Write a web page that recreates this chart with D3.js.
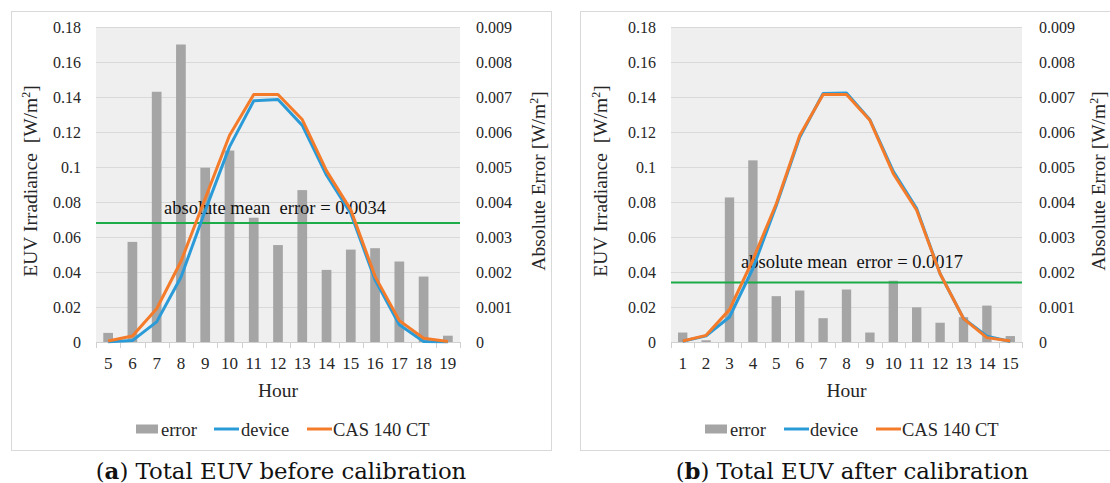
<!DOCTYPE html>
<html>
<head>
<meta charset="utf-8">
<script src="https://cdn.jsdelivr.net/npm/d3@7"></script>
<style>
  html, body { margin: 0; padding: 0; background: #ffffff; }
  svg { display: block; }
</style>
</head>
<body>
<svg id="chart" width="1110" height="483"></svg>
<script>
// ---------- DATA ----------
const hoursA  = [5, 6, 7, 8, 9, 10, 11, 12, 13, 14, 15, 16, 17, 18, 19];
const errorA  = [0.00026, 0.00286, 0.00715, 0.0085, 0.00498, 0.00547, 0.00355, 0.00277, 0.00434, 0.00206, 0.00264, 0.00268, 0.0023, 0.00187, 0.00018];
const deviceA = [0.0002, 0.0008, 0.0115, 0.037, 0.075, 0.1115, 0.1378, 0.1386, 0.1238, 0.0953, 0.0735, 0.0355, 0.0098, 0.0003, 0.0001];
const casA    = [0.0006, 0.0034, 0.019, 0.046, 0.082, 0.118, 0.1414, 0.1414, 0.1271, 0.0978, 0.0755, 0.0375, 0.0122, 0.0021, 0.0003];
const meanErrA = 0.0034;

const hoursB  = [1, 2, 3, 4, 5, 6, 7, 8, 9, 10, 11, 12, 13, 14, 15];
const errorB  = [0.00027, 0.00005, 0.00413, 0.00519, 0.00131, 0.00147, 0.00068, 0.0015, 0.00027, 0.00175, 0.00099, 0.00055, 0.00071, 0.00104, 0.00017];
const deviceB = [0.0004, 0.0035, 0.0143, 0.042, 0.078, 0.117, 0.142, 0.1423, 0.127, 0.0975, 0.0762, 0.039, 0.0134, 0.0033, 0.0003];
const casB    = [0.0006, 0.0038, 0.0185, 0.047, 0.079, 0.118, 0.1414, 0.1414, 0.1267, 0.0962, 0.0753, 0.039, 0.0134, 0.0025, 0.0006];
const meanErrB = 0.0017;

const leftTicks  = [0, 0.02, 0.04, 0.06, 0.08, 0.1, 0.12, 0.14, 0.16, 0.18];
const rightTicks = [0, 0.001, 0.002, 0.003, 0.004, 0.005, 0.006, 0.007, 0.008, 0.009];
const seriesNames = ["error", "device", "CAS 140 CT"];
const captionA = ["a", ") Total EUV before calibration"];
const captionB = ["b", ") Total EUV after calibration"];
const annotA = "absolute mean\u00A0 error = 0.0034";
const annotB = "absolute mean\u00A0 error = 0.0017";

// ---------- STYLE ----------
const FONT = "'Liberation Serif', 'Times New Roman', serif";
const TEXT = "#262626";
const C_BAR = "#a5a5a5", C_DEV = "#2b9bd8", C_CAS = "#f47b2a", C_GREEN = "#1bab47";

const svg = d3.select("#chart");

function drawPanel(o) {
  const g = svg.append("g");
  // panel border
  g.append("rect").attr("x", o.box[0] + 0.5).attr("y", o.box[1] + 0.5)
    .attr("width", o.box[2] - o.box[0]).attr("height", o.box[3] - o.box[1])
    .attr("fill", "#fff").attr("stroke", "#d9d9d9").attr("stroke-width", 1);

  const x = d3.scaleBand().domain(o.hours).range([o.left, o.right]).padding(0);
  const yL = d3.scaleLinear().domain([0, 0.18]).range([o.bottom, o.top]);
  const yR = d3.scaleLinear().domain([0, 0.009]).range([o.bottom, o.top]);

  // plot background
  g.append("rect").attr("x", o.left).attr("y", o.top)
    .attr("width", o.right - o.left).attr("height", o.bottom - o.top).attr("fill", "#efefef");

  // gridlines
  g.append("g").selectAll("line").data(leftTicks.slice(1)).join("line")
    .attr("x1", o.left).attr("x2", o.right)
    .attr("y1", d => Math.round(yL(d)) + 0.5).attr("y2", d => Math.round(yL(d)) + 0.5)
    .attr("stroke", "#d9d9d9").attr("stroke-width", 1);

  // bars (right axis)
  const bw = x.bandwidth() / 2.5;
  g.append("g").selectAll("rect").data(o.error).join("rect")
    .attr("x", (d, i) => x(o.hours[i]) + (x.bandwidth() - bw) / 2)
    .attr("y", d => yR(d)).attr("width", bw).attr("height", d => o.bottom - yR(d))
    .attr("fill", C_BAR);

  // x axis
  const xAxis = d3.axisBottom(x).tickSize(0).tickPadding(0);
  const xa = g.append("g").attr("transform", `translate(0,${o.bottom})`).call(xAxis);
  xa.attr("font-family", FONT);
  xa.select(".domain").attr("stroke", "#d0d0d0").attr("stroke-width", 1.2);
  xa.selectAll(".tick text").attr("font-family", FONT).attr("font-size", 17)
    .attr("fill", TEXT).attr("y", 27).attr("dy", 0);
  // category boundary ticks
  const bounds = o.hours.map(h => x(h)).concat([o.right]);
  g.append("g").selectAll("line").data(bounds).join("line")
    .attr("x1", d => Math.round(d) + 0.5).attr("x2", d => Math.round(d) + 0.5)
    .attr("y1", o.bottom).attr("y2", o.bottom + 6)
    .attr("stroke", "#d0d0d0").attr("stroke-width", 1);

  // left axis labels
  const la = g.append("g").attr("transform", `translate(${o.left},0)`)
    .call(d3.axisLeft(yL).tickValues(leftTicks).tickSize(0).tickPadding(15)
      .tickFormat(d => d === 0 ? "0" : String(+d.toFixed(2))));
  la.attr("font-family", FONT);
  la.select(".domain").remove();
  la.selectAll(".tick text").attr("font-family", FONT).attr("font-size", 16).attr("fill", TEXT);

  // right axis labels
  const ra = g.append("g").attr("transform", `translate(${o.right},0)`)
    .call(d3.axisRight(yR).tickValues(rightTicks).tickSize(0).tickPadding(o.rpad)
      .tickFormat(d => d === 0 ? "0" : String(+d.toFixed(3))));
  ra.attr("font-family", FONT);
  ra.select(".domain").remove();
  ra.selectAll(".tick text").attr("font-family", FONT).attr("font-size", 16).attr("fill", TEXT);

  // mean error line
  g.append("line").attr("x1", o.left).attr("x2", o.right)
    .attr("y1", yR(o.mean)).attr("y2", yR(o.mean))
    .attr("stroke", C_GREEN).attr("stroke-width", 2);
  g.append("text").attr("x", o.annot[0]).attr("y", o.annot[1])
    .attr("font-family", FONT).attr("font-size", 18.5).attr("fill", "#111")
    .text(o.annotText);

  // lines
  const line = d3.line().x((d, i) => x(o.hours[i]) + x.bandwidth() / 2).y(d => yL(d));
  g.append("path").datum(o.device).attr("d", line).attr("fill", "none")
    .attr("stroke", C_DEV).attr("stroke-width", 3).attr("stroke-linejoin", "round");
  g.append("path").datum(o.cas).attr("d", line).attr("fill", "none")
    .attr("stroke", C_CAS).attr("stroke-width", 3).attr("stroke-linejoin", "round");

  // axis titles
  const cy = 181;
  const lt = g.append("text").attr("transform", `translate(${o.ltx},${cy}) rotate(-90)`)
    .attr("text-anchor", "middle").attr("font-family", FONT).attr("font-size", 19.5).attr("fill", TEXT)
    .attr("dy", "0.35em");
  lt.append("tspan").text("EUV Irradiance\u00A0 [W/m");
  lt.append("tspan").attr("baseline-shift", "super").attr("font-size", 12).text("2");
  lt.append("tspan").text("]");
  const rt = g.append("text").attr("transform", `translate(${o.rtx},${cy}) rotate(-90)`)
    .attr("text-anchor", "middle").attr("font-family", FONT).attr("font-size", 19.5).attr("fill", TEXT)
    .attr("dy", "0.35em");
  rt.append("tspan").text("Absolute Error [W/m");
  rt.append("tspan").attr("baseline-shift", "super").attr("font-size", 12).text("2");
  rt.append("tspan").text("]");

  // x title
  g.append("text").attr("x", (o.left + o.right) / 2).attr("y", 397)
    .attr("text-anchor", "middle").attr("font-family", FONT).attr("font-size", 19.5).attr("fill", TEXT)
    .text("Hour");

  // legend
  const L = o.legend, ly = 429;
  g.append("rect").attr("x", L[0]).attr("y", ly - 4.5).attr("width", 22).attr("height", 9).attr("fill", C_BAR);
  g.append("line").attr("x1", L[2]).attr("x2", L[2] + 25).attr("y1", ly).attr("y2", ly)
    .attr("stroke", C_DEV).attr("stroke-width", 3);
  g.append("line").attr("x1", L[4]).attr("x2", L[4] + 25).attr("y1", ly).attr("y2", ly)
    .attr("stroke", C_CAS).attr("stroke-width", 3);
  [L[1], L[3], L[5]].forEach((lx, i) => {
    g.append("text").attr("x", lx).attr("y", ly + 6.5).attr("font-family", FONT)
      .attr("font-size", 18.5).attr("fill", TEXT).text(seriesNames[i]);
  });

  // caption
  const cap = g.append("text").attr("x", o.capx).attr("y", 479).attr("text-anchor", "middle")
    .attr("font-family", "'DejaVu Serif', serif").attr("font-size", 22.8).attr("fill", "#111");
  cap.append("tspan").text("(");
  cap.append("tspan").attr("font-weight", "bold").text(o.caption[0]);
  cap.append("tspan").text(o.caption[1]);
}

drawPanel({
  box: [11, 11, 551, 450], left: 96, right: 460, top: 27, bottom: 342, rpad: 16,
  hours: hoursA, error: errorA, device: deviceA, cas: casA, mean: meanErrA,
  annot: [164, 214], annotText: annotA, ltx: 30, rtx: 538,
  legend: [136, 161, 214, 241, 307, 333], capx: 281, caption: captionA
});
drawPanel({
  box: [580, 11, 1125, 450], left: 671, right: 1022, top: 27, bottom: 342, rpad: 17,
  hours: hoursB, error: errorB, device: deviceB, cas: casB, mean: meanErrB,
  annot: [741, 268], annotText: annotB, ltx: 600, rtx: 1098,
  legend: [705, 730, 784, 810, 876, 902], capx: 852, caption: captionB
});
</script>
</body>
</html>
